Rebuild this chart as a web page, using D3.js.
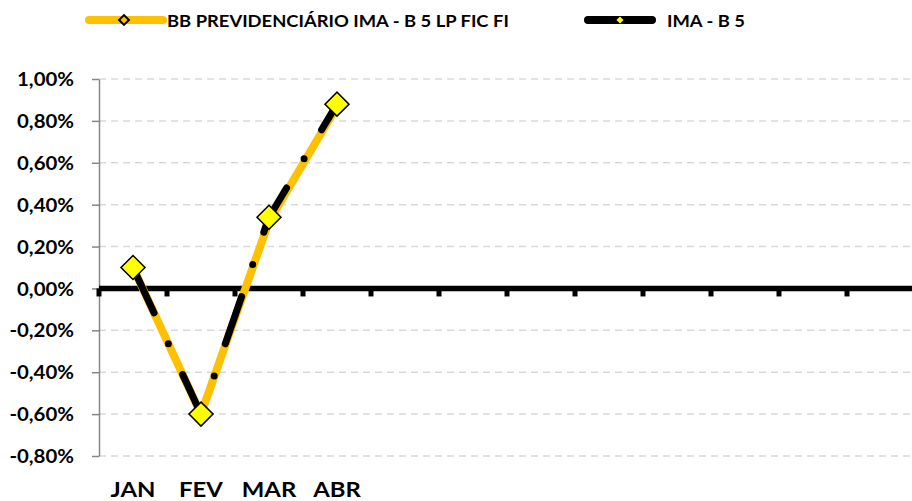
<!DOCTYPE html>
<html><head><meta charset="utf-8">
<script src="https://cdn.jsdelivr.net/npm/d3@7"></script>
<style>
body{margin:0;background:#fff}
svg text{font-family:Lato,"Open Sans",sans-serif;font-weight:700;fill:#000}
</style>
</head><body>
<svg id="c" width="912" height="501"></svg>
<script>
// ---- data ----
const categories = ["JAN","FEV","MAR","ABR","","","","","","","",""];
const bbPrev = [0.10, -0.60, 0.32, 0.87];
const imaB5  = [0.10, -0.60, 0.34, 0.88];
const yTicks = [-0.8, -0.6, -0.4, -0.2, 0, 0.2, 0.4, 0.6, 0.8, 1.0];
const seriesNames = ["BB PREVIDENCIÁRIO IMA - B 5 LP FIC FI", "IMA - B 5"];

const svg = d3.select("#c");
const W = 912;
const loc = d3.formatLocale({decimal:",", thousands:".", grouping:[3], currency:["R$",""], minus:"-"});
const pct = v => loc.format(".2f")(v) + "%";

const x = d3.scaleBand().domain(d3.range(categories.length)).range([99, 915]).padding(0);
const y = d3.scaleLinear().domain([-0.8, 1.0]).range([456, 79]);
const cx = i => x(i) + x.bandwidth() / 2;

// gridlines
svg.append("g").selectAll("line").data(yTicks.filter(t => t !== 0)).join("line")
  .attr("x1", 99).attr("x2", W).attr("y1", d => y(d)).attr("y2", d => y(d))
  .attr("stroke", "#d9d9d9").attr("stroke-width", 1.5).attr("stroke-dasharray", "7,5");

// y axis
const yAxis = svg.append("g").attr("transform", "translate(99,0)")
  .call(d3.axisLeft(y).tickValues(yTicks).tickSize(7).tickSizeOuter(0).tickFormat(pct));
yAxis.select(".domain").attr("stroke", "#868686").attr("stroke-width", 1.5);
yAxis.selectAll(".tick line").attr("stroke", "#868686").attr("stroke-width", 1.5);
const yTexts = yAxis.selectAll(".tick text").style("font-size", "18.5px").attr("fill", "#000");
const refW = yTexts.filter(d => d === 1.0).node().getComputedTextLength();
const ky = 57 / refW;
yTexts.attr("x", -25 / ky).attr("dy", "0.36em").attr("transform", `scale(${ky},1)`);

// zero line + category ticks
const y0 = y(0);
const bounds = d3.range(categories.length).map(i => x(i)).concat([x.range()[1]]);
svg.append("g").selectAll("line").data(bounds).join("line")
  .attr("x1", d => d).attr("x2", d => d).attr("y1", y0).attr("y2", y0 + 8)
  .attr("stroke", "#000").attr("stroke-width", 5);
svg.append("line").attr("x1", 99).attr("x2", W).attr("y1", y0).attr("y2", y0)
  .attr("stroke", "#000").attr("stroke-width", 5.5);

// x labels
const xl = svg.append("g").selectAll("text").data(categories).join("text")
  .attr("text-anchor", "middle").style("font-size", "21px").text(d => d);
const kx = 45 / xl.filter((d, i) => i === 0).node().getComputedTextLength();
xl.attr("transform", (d, i) => `translate(${cx(i)},497) scale(${kx},1)`);

// lines
const line = d3.line().x((d, i) => cx(i)).y(d => y(d));
svg.append("path").datum(bbPrev).attr("d", line).attr("fill", "none")
  .attr("stroke", "#FFC000").attr("stroke-width", 8).attr("stroke-linejoin", "round").attr("stroke-linecap", "round");
svg.append("path").datum(imaB5).attr("d", line).attr("fill", "none")
  .attr("stroke", "#000").attr("stroke-width", 7).attr("stroke-linejoin", "round")
  .attr("stroke-linecap", "round").attr("stroke-dasharray", "50 34 0 34");

// markers
const diamond = d3.symbol(d3.symbolSquare, 17 * 17);
svg.append("g").selectAll("path").data(imaB5).join("path")
  .attr("d", diamond).attr("transform", (d, i) => `translate(${cx(i)},${y(d)}) rotate(45)`)
  .attr("fill", "#FFFF00").attr("stroke", "#000").attr("stroke-width", 1.5);

// legend
const lg = svg.append("g");
lg.append("line").attr("x1", 89).attr("x2", 163).attr("y1", 20).attr("y2", 20)
  .attr("stroke", "#FFC000").attr("stroke-width", 8).attr("stroke-linecap", "round");
lg.append("path").attr("d", d3.symbol(d3.symbolSquare, 49)).attr("transform", "translate(124,20) rotate(45)")
  .attr("fill", "#FFC000").attr("stroke", "#000").attr("stroke-width", 2);
lg.append("line").attr("x1", 588).attr("x2", 652).attr("y1", 20).attr("y2", 20)
  .attr("stroke", "#000").attr("stroke-width", 8).attr("stroke-linecap", "round");
lg.append("path").attr("d", d3.symbol(d3.symbolSquare, 25)).attr("transform", "translate(620,20) rotate(45)")
  .attr("fill", "#FFFF00");
const lt = lg.selectAll("text.lt").data(seriesNames).join("text").attr("class", "lt")
  .style("font-size", "17.5px").text(d => d);
const kl = 342 / lt.filter((d, i) => i === 0).node().getComputedTextLength();
const lx = [167, 667];
lt.attr("transform", (d, i) => `translate(${lx[i]},26.5) scale(${kl},1)`);
</script>
</body></html>
